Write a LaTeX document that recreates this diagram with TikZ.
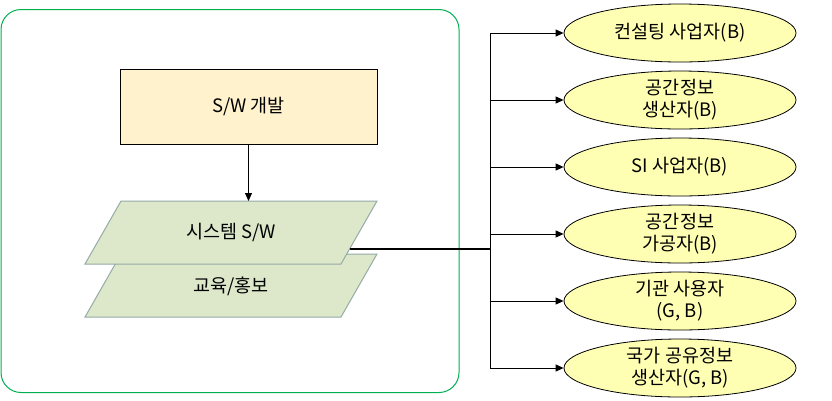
\documentclass[tikz,border=0pt]{standalone}
\usepackage{fontspec}
\setmainfont{Noto Sans CJK KR}
\usepackage{xcolor}
\usetikzlibrary{arrows.meta,shapes.geometric,calc}
\definecolor{framegreen}{HTML}{00B050}
\definecolor{devyellow}{HTML}{FFF2CC}
\definecolor{layergreen}{HTML}{DDE8CB}
\definecolor{layeredge}{HTML}{93AAA6}
\definecolor{roleyellow}{HTML}{FFFFB3}
\tikzset{
	frame/.style={draw=framegreen, line width=1pt, rounded corners=20pt},
	devbox/.style={draw=black, fill=devyellow, line width=1pt, minimum width=257pt, minimum height=75pt},
	layer/.style={draw=layeredge, fill=layergreen, line width=1pt},
	role/.style={ellipse, draw=black, fill=roleyellow, line width=0.8pt, minimum width=232pt, minimum height=58pt, inner sep=0pt, align=center},
	link/.style={line width=1pt, -{Triangle[length=8pt,width=7pt]}}
}

\begin{document}
\begin{tikzpicture}[x=1pt, y=-1pt, font=\fontsize{18.5}{22}\selectfont]
	\useasboundingbox (0,0) rectangle (832,400);
	\draw[frame] (1,9.5) rectangle (459,392.5);
	\node[devbox] (dev) at (248.5,106.5) {S/W 개발};
	\draw[layer] (121,254) -- (377,254) -- (341,317) -- (85,317) -- cycle;
	\draw[layer] (121,201) -- (377,201) -- (341,264) -- (85,264) -- cycle;
	\node (edu) at (231,286) {교육/홍보};
	\node (sys) at (231,232) {시스템 S/W};
	\coordinate (systop) at (248.5,201);
	\coordinate (sysout) at (349.5,249);
	\coordinate (trunk) at (490,249);
	\draw[link] (dev) -- (systop);
	\foreach \name/\y/\txt in {cons/33/{컨설팅 사업자(B)}, prod/100/{공간정보\\생산자(B)}, si/167/{SI 사업자(B)}, proc/234/{공간정보\\가공자(B)}, inst/301/{기관 사용자\\(G, B)}, natl/368/{국가 공유정보\\생산자(G, B)}}{
		\node[role] (\name) at (680,\y) {\txt};
		\draw[link] (trunk |- \name) -- (\name);
	}
	\draw[line width=1pt] (trunk |- cons) -- (trunk |- natl);
	\draw[line width=2.2pt] (sysout) -- (trunk);
\end{tikzpicture}
\end{document}
